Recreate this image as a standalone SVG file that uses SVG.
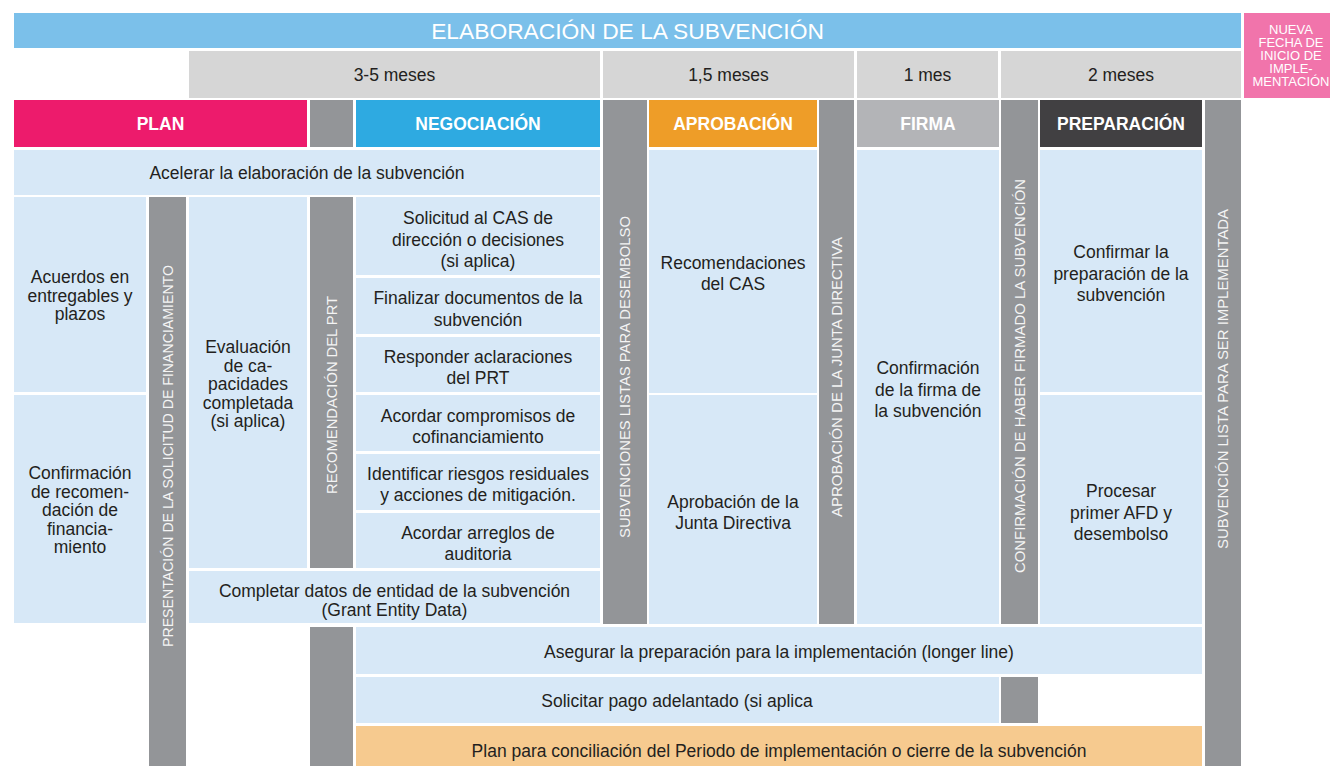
<svg xmlns="http://www.w3.org/2000/svg" width="1330" height="766" viewBox="0 0 1330 766">
<style>
.cell{fill:#d7e8f7}
.bar{fill:#939598}
.dur{fill:#d6d6d6}
.t{font-family:"Liberation Sans",Arial,Helvetica,sans-serif;font-size:17.5px;fill:#231f20;text-anchor:middle}
.h{font-weight:bold;fill:#ffffff}
.v{font-family:"Liberation Sans",Arial,Helvetica,sans-serif;font-size:14px;fill:#f4f4f4;text-anchor:middle}
.w{font-family:"Liberation Sans",Arial,Helvetica,sans-serif;fill:#ffffff;text-anchor:middle}
</style>
<rect width="1330" height="766" fill="#ffffff"/>

<g id="title">
<rect x="14" y="13" width="1227" height="35" fill="#7bc0ea"/>
<text class="w" x="627.5" y="38.5" font-size="22.8">ELABORACIÓN DE LA SUBVENCIÓN</text>
</g>
<g id="nueva-fecha">
<rect x="1244" y="13" width="86" height="85" fill="#f174ab"/>
<text class="w" font-size="13" x="1291"><tspan x="1291" y="34">NUEVA</tspan><tspan x="1291" y="47">FECHA DE</tspan><tspan x="1291" y="60">INICIO DE</tspan><tspan x="1291" y="73">IMPLE-</tspan><tspan x="1291" y="86">MENTACIÓN</tspan></text>
</g>

<g id="durations">
<g id="dur-3-5"><rect class="dur" x="189" y="51" width="411" height="47"/><text class="t" x="394.5" y="81">3-5 meses</text></g>
<g id="dur-1-5"><rect class="dur" x="603" y="51" width="251" height="47"/><text class="t" x="728.5" y="81">1,5 meses</text></g>
<g id="dur-1"><rect class="dur" x="857" y="51" width="141" height="47"/><text class="t" x="927.5" y="81">1 mes</text></g>
<g id="dur-2"><rect class="dur" x="1001" y="51" width="240" height="47"/><text class="t" x="1121" y="81">2 meses</text></g>
</g>

<g id="headers">
<g id="plan"><rect x="14" y="100" width="293" height="47" fill="#ed1b6c"/><text class="t h" x="160.5" y="130">PLAN</text></g>
<rect class="bar" x="310" y="100" width="43" height="47"/>
<g id="negociacion"><rect x="356" y="100" width="244" height="47" fill="#2eaae1"/><text class="t h" x="478" y="130">NEGOCIACIÓN</text></g>
<g id="aprobacion"><rect x="649" y="100" width="168" height="47" fill="#ee9d28"/><text class="t h" x="733" y="130">APROBACIÓN</text></g>
<g id="firma"><rect x="857" y="100" width="142" height="47" fill="#b3b4b7"/><text class="t h" x="928" y="130">FIRMA</text></g>
<g id="preparacion"><rect x="1040" y="100" width="162" height="47" fill="#414042"/><text class="t h" x="1121" y="130">PREPARACIÓN</text></g>
</g>

<g id="milestones">
<g id="m-presentacion"><rect class="bar" x="149" y="197" width="37" height="569"/><text class="v" transform="translate(172.5,456) rotate(-90)" textLength="382" lengthAdjust="spacingAndGlyphs">PRESENTACIÓN DE LA SOLICITUD DE FINANCIAMIENTO</text></g>
<g id="m-recomendacion"><rect class="bar" x="310" y="197" width="43" height="371"/><rect class="bar" x="310" y="627" width="43" height="139"/><text class="v" transform="translate(336.5,395) rotate(-90)" textLength="198" lengthAdjust="spacingAndGlyphs">RECOMENDACIÓN DEL PRT</text></g>
<g id="m-subvenciones"><rect class="bar" x="603" y="100" width="44" height="524"/><text class="v" transform="translate(630,377) rotate(-90)" textLength="322" lengthAdjust="spacingAndGlyphs">SUBVENCIONES LISTAS PARA DESEMBOLSO</text></g>
<g id="m-junta"><rect class="bar" x="819" y="100" width="35" height="524"/><text class="v" transform="translate(841.5,377) rotate(-90)" textLength="280" lengthAdjust="spacingAndGlyphs">APROBACIÓN DE LA JUNTA DIRECTIVA</text></g>
<g id="m-confirmacion"><rect class="bar" x="1001" y="100" width="37" height="524"/><rect class="bar" x="1001" y="677" width="37" height="46"/><text class="v" transform="translate(1024.5,376) rotate(-90)" textLength="394" lengthAdjust="spacingAndGlyphs">CONFIRMACIÓN DE HABER FIRMADO LA SUBVENCIÓN</text></g>
<g id="m-lista"><rect class="bar" x="1205" y="100" width="36" height="666"/><text class="v" transform="translate(1228,379) rotate(-90)" textLength="340" lengthAdjust="spacingAndGlyphs">SUBVENCIÓN LISTA PARA SER IMPLEMENTADA</text></g>
</g>

<g id="tasks">
<g id="acelerar"><rect class="cell" x="14" y="150" width="586" height="45"/><text class="t" x="307" y="179">Acelerar la elaboración de la subvención</text></g>
<g id="acuerdos"><rect class="cell" x="14" y="197" width="132" height="195"/><text class="t"><tspan x="80" y="283">Acuerdos en</tspan><tspan x="80" y="301.5">entregables y</tspan><tspan x="80" y="320">plazos</tspan></text></g>
<g id="confirmacion-rec"><rect class="cell" x="14" y="395" width="132" height="228"/><text class="t"><tspan x="80" y="479">Confirmación</tspan><tspan x="80" y="497.5">de recomen-</tspan><tspan x="80" y="516">dación de</tspan><tspan x="80" y="534.5">financia-</tspan><tspan x="80" y="553">miento</tspan></text></g>
<g id="evaluacion"><rect class="cell" x="189" y="197" width="118" height="371"/><text class="t"><tspan x="248" y="353">Evaluación</tspan><tspan x="248" y="371.5">de ca-</tspan><tspan x="248" y="390">pacidades</tspan><tspan x="248" y="408.5">completada</tspan><tspan x="248" y="427">(si aplica)</tspan></text></g>
<g id="solicitud-cas"><rect class="cell" x="356" y="197" width="244" height="78"/><text class="t"><tspan x="478" y="224">Solicitud al CAS de</tspan><tspan x="478" y="245.5">dirección o decisiones</tspan><tspan x="478" y="267">(si aplica)</tspan></text></g>
<g id="finalizar"><rect class="cell" x="356" y="278" width="244" height="56"/><text class="t"><tspan x="478" y="304">Finalizar documentos de la</tspan><tspan x="478" y="325.5">subvención</tspan></text></g>
<g id="responder"><rect class="cell" x="356" y="337" width="244" height="55"/><text class="t"><tspan x="478" y="363">Responder aclaraciones</tspan><tspan x="478" y="384">del PRT</tspan></text></g>
<g id="cofinanciamiento"><rect class="cell" x="356" y="395" width="244" height="56"/><text class="t"><tspan x="478" y="422">Acordar compromisos de</tspan><tspan x="478" y="442.5">cofinanciamiento</tspan></text></g>
<g id="riesgos"><rect class="cell" x="356" y="454" width="244" height="56"/><text class="t"><tspan x="478" y="480">Identificar riesgos residuales</tspan><tspan x="478" y="500.5">y acciones de mitigación.</tspan></text></g>
<g id="auditoria"><rect class="cell" x="356" y="513" width="244" height="55"/><text class="t"><tspan x="478" y="538.5">Acordar arreglos de</tspan><tspan x="478" y="560">auditoria</tspan></text></g>
<g id="completar"><rect class="cell" x="189" y="571" width="411" height="52"/><text class="t"><tspan x="394.5" y="597">Completar datos de entidad de la subvención</tspan><tspan x="394.5" y="616">(Grant Entity Data)</tspan></text></g>
<g id="recomendaciones-cas"><rect class="cell" x="649" y="150" width="168" height="243"/><text class="t"><tspan x="733" y="269">Recomendaciones</tspan><tspan x="733" y="290">del CAS</tspan></text></g>
<g id="aprobacion-junta"><rect class="cell" x="649" y="395" width="168" height="229"/><text class="t"><tspan x="733" y="508">Aprobación de la</tspan><tspan x="733" y="529">Junta Directiva</tspan></text></g>
<g id="confirmacion-firma"><rect class="cell" x="857" y="150" width="142" height="474"/><text class="t"><tspan x="928" y="374">Confirmación</tspan><tspan x="928" y="395.5">de la firma de</tspan><tspan x="928" y="417">la subvención</tspan></text></g>
<g id="confirmar-prep"><rect class="cell" x="1040" y="150" width="162" height="242"/><text class="t"><tspan x="1121" y="258">Confirmar la</tspan><tspan x="1121" y="279.5">preparación de la</tspan><tspan x="1121" y="301">subvención</tspan></text></g>
<g id="procesar"><rect class="cell" x="1040" y="395" width="162" height="229"/><text class="t"><tspan x="1121" y="497">Procesar</tspan><tspan x="1121" y="518.5">primer AFD y</tspan><tspan x="1121" y="540">desembolso</tspan></text></g>
<g id="asegurar"><rect class="cell" x="356" y="627" width="846" height="47"/><text class="t" x="779" y="657.5">Asegurar la preparación para la implementación (longer line)</text></g>
<g id="solicitar-pago"><rect class="cell" x="356" y="677" width="643" height="46"/><text class="t" x="677" y="706.5">Solicitar pago adelantado (si aplica</text></g>
<g id="plan-conciliacion"><rect x="356" y="726" width="846" height="40" fill="#f6ca8f"/><text class="t" x="779" y="757">Plan para conciliación del Periodo de implementación o cierre de la subvención</text></g>
</g>

<g id="connectors"/>
</svg>
